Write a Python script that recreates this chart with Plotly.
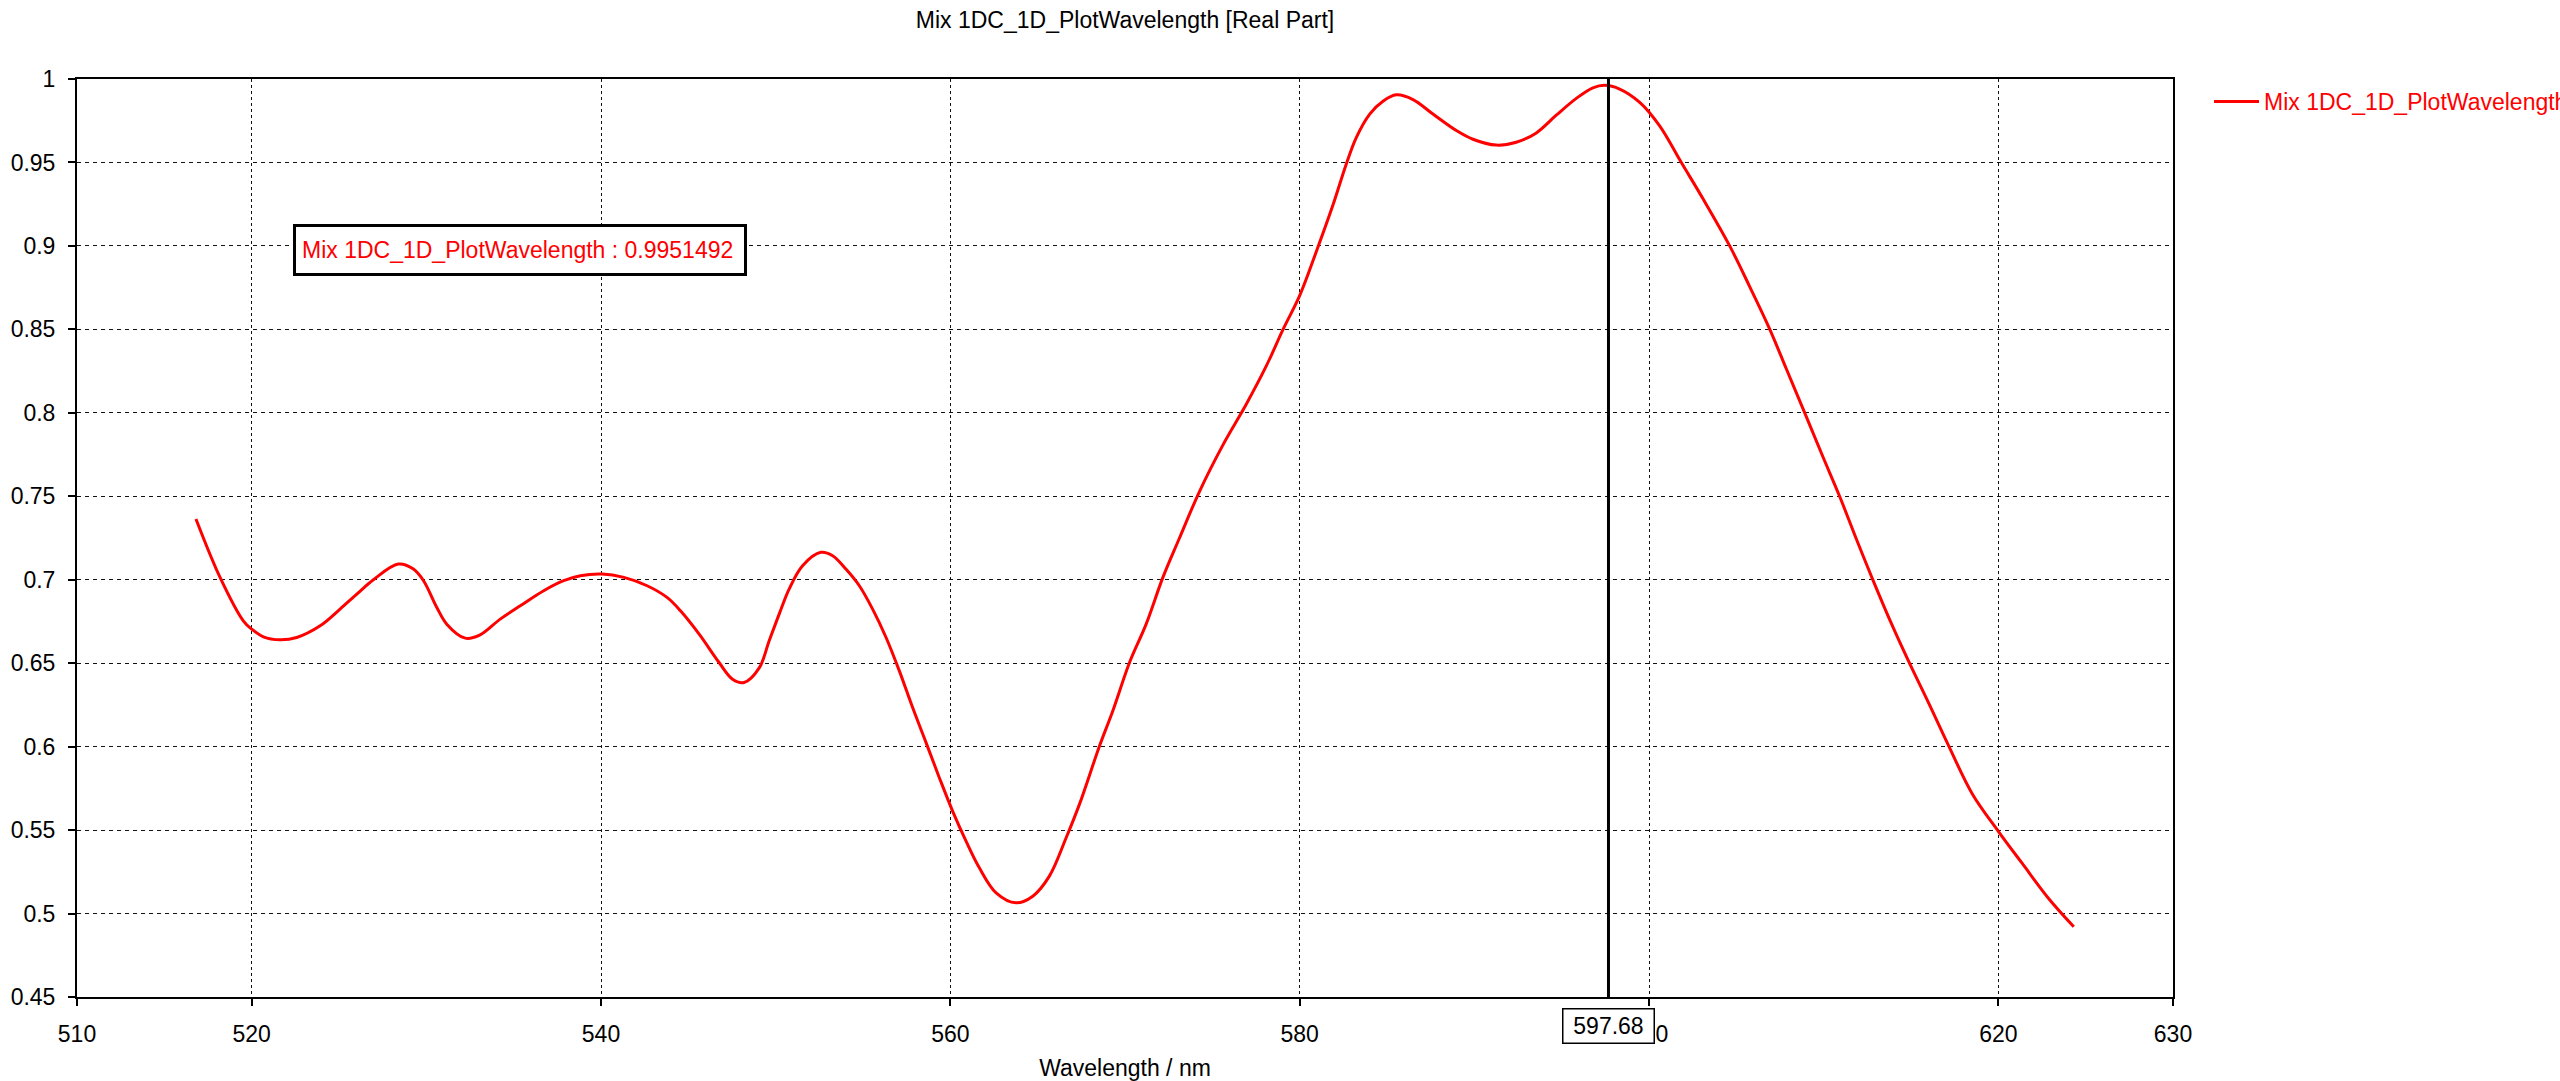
import plotly.graph_objects as go

# ---- data ----
wavelength_nm = [
    516.81, 518.19, 519.52, 520.00, 520.67, 521.62, 522.58, 523.92, 525.06, 526.02,
    526.97, 528.40, 529.26, 529.84, 530.60, 531.17, 532.23, 533.08, 534.23, 535.38,
    536.72, 537.86, 538.82, 540.06, 541.31, 542.64, 543.78, 544.55, 545.62, 546.76,
    547.53, 548.19, 549.05, 549.63, 550.20, 550.77, 551.54, 552.59, 553.26, 554.02,
    554.79, 555.55, 556.32, 557.08, 557.84, 558.61, 559.37, 560.13, 560.90, 561.66,
    562.62, 563.76, 564.72, 565.67, 566.63, 567.39, 568.54, 569.30, 570.26, 571.21,
    572.17, 573.12, 574.27, 575.61, 576.95, 578.09, 579.05, 580.00, 580.95, 581.91,
    582.67, 583.24, 584.01, 584.77, 585.53, 586.49, 587.63, 588.97, 589.92, 591.26,
    592.40, 593.55, 594.69, 595.84, 596.79, 597.46, 598.32, 599.47, 600.61, 601.86,
    603.10, 604.62, 605.77, 606.91, 607.86, 608.91, 609.95, 610.90, 611.86, 612.81,
    613.95, 614.90, 616.04, 617.09, 618.52, 620.00, 621.37, 622.89, 624.32,
]
real_part = [
    0.7364, 0.7014, 0.6754, 0.6704, 0.6658, 0.6640, 0.6654, 0.6724, 0.6824, 0.6914,
    0.7000, 0.7094, 0.7064, 0.6994, 0.6834, 0.6734, 0.6650, 0.6670, 0.6764, 0.6844,
    0.6934, 0.6994, 0.7024, 0.7034, 0.7014, 0.6964, 0.6894, 0.6814, 0.6674, 0.6504,
    0.6404, 0.6384, 0.6470, 0.6634, 0.6794, 0.6944, 0.7084, 0.7164, 0.7144, 0.7064,
    0.6964, 0.6824, 0.6654, 0.6454, 0.6234, 0.6024, 0.5814, 0.5614, 0.5434, 0.5274,
    0.5124, 0.5064, 0.5104, 0.5224, 0.5454, 0.5654, 0.6004, 0.6214, 0.6504, 0.6734,
    0.7014, 0.7250, 0.7530, 0.7808, 0.8053, 0.8281, 0.8500, 0.8702, 0.8965, 0.9246,
    0.9491, 0.9649, 0.9790, 0.9867, 0.9905, 0.9877, 0.9790, 0.9691, 0.9639, 0.9604,
    0.9621, 0.9677, 0.9783, 0.9884, 0.9947, 0.9962, 0.9940, 0.9860, 0.9719, 0.9498,
    0.9281, 0.9000, 0.8755, 0.8502, 0.8264, 0.8001, 0.7738, 0.7503, 0.7247, 0.7001,
    0.6720, 0.6503, 0.6255, 0.6020, 0.5715, 0.5493, 0.5300, 0.5089, 0.4921,
]
series_name = "Mix 1DC_1D_PlotWavelength"
chart_title = "Mix 1DC_1D_PlotWavelength [Real Part]"
x_title = "Wavelength / nm"
x_tick_values = [510, 520, 540, 560, 580, 600, 620, 630]
x_tick_labels = ["510", "520", "540", "560", "580", "600", "620", "630"]
y_tick_values = [0.45, 0.5, 0.55, 0.6, 0.65, 0.7, 0.75, 0.8, 0.85, 0.9, 0.95, 1.0]
y_tick_labels = ["0.45", "0.5", "0.55", "0.6", "0.65", "0.7", "0.75", "0.8", "0.85", "0.9", "0.95", "1"]
cursor_x = 597.68
cursor_value = 0.9951492

FONT = "Liberation Sans"
RED = "#ff0000"

fig = go.Figure()
fig.add_trace(go.Scatter(
    x=wavelength_nm, y=real_part, mode="lines", name=series_name,
    line=dict(color=RED, width=3, shape="spline", smoothing=1.0),
    showlegend=True,
))

# cursor line
fig.add_shape(type="line", xref="x", yref="paper", x0=cursor_x, x1=cursor_x, y0=0, y1=1,
              line=dict(color="black", width=3), layer="above")

# cursor x label box
fig.add_annotation(xref="x", yref="paper", x=cursor_x, y=-0.0316, text=f"{cursor_x:.2f}",
                   showarrow=False, xanchor="center", yanchor="middle",
                   font=dict(family=FONT, size=23, color="black"),
                   bgcolor="white", bordercolor="black", borderwidth=1.5, borderpad=3,
                   width=84, height=27)

# value readout box
fig.add_annotation(xref="paper", yref="paper", x=(293 - 77) / 2096, y=0.8137,
                   text=f"{series_name} : {cursor_value}",
                   showarrow=False, xanchor="left", yanchor="middle", align="left",
                   font=dict(family=FONT, size=23, color=RED),
                   bgcolor="white", bordercolor="black", borderwidth=3, borderpad=6,
                   width=436, height=34)

fig.update_layout(
    width=2560, height=1081,
    margin=dict(l=77, r=387, t=79, b=84, autoexpand=False),
    paper_bgcolor="white", plot_bgcolor="white",
    font=dict(family=FONT, size=23, color="black"),
    title=dict(text=chart_title, x=(1125) / 2560, xanchor="center", y=1 - 20 / 1081, yanchor="middle",
               font=dict(family=FONT, size=23, color="black")),
    showlegend=True,
    legend=dict(x=(2209 - 77) / 2096, y=1 - (80 - 79) / 918, xanchor="left", yanchor="top",
                font=dict(family=FONT, size=23, color=RED), bgcolor="rgba(0,0,0,0)",
                borderwidth=0, itemwidth=45),
)
fig.update_xaxes(
    range=[510, 630], tickmode="array", tickvals=x_tick_values, ticktext=x_tick_labels,
    showgrid=True, gridcolor="#111111", gridwidth=1, griddash="3px,3px",
    showline=True, linecolor="black", linewidth=2, mirror=True,
    ticks="outside", ticklen=7, tickcolor="black", tickwidth=2,
    ticklabelstandoff=8, zeroline=False, automargin=False,
    title=dict(text=x_title, font=dict(family=FONT, size=23, color="black"), standoff=17),
)
fig.update_yaxes(
    range=[0.45, 1.0], tickmode="array", tickvals=y_tick_values, ticktext=y_tick_labels,
    showgrid=True, gridcolor="#111111", gridwidth=1, griddash="4px,4px",
    showline=True, linecolor="black", linewidth=2, mirror=True,
    ticks="outside", ticklen=7, tickcolor="black", tickwidth=2,
    ticklabelstandoff=8, zeroline=False, automargin=False,
)

fig.write_html("out.html")
